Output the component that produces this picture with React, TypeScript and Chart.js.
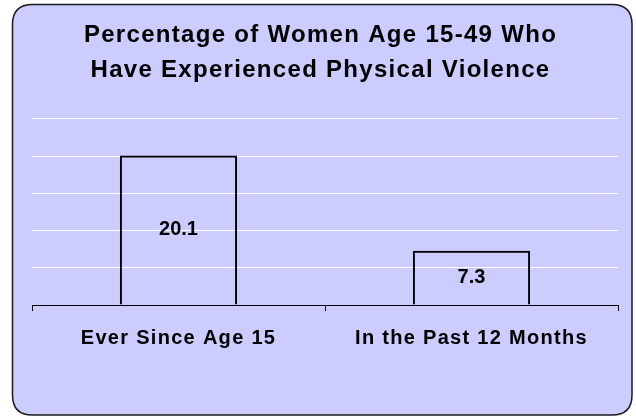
import React, { useEffect, useRef } from "react";
import { Chart, registerables } from "chart.js";

Chart.register(...registerables);

const categories: string[] = ["Ever Since Age 15", "In the Past 12 Months"];
const values: number[] = [20.1, 7.3];
const titleLines: string[] = ["Percentage of Women Age 15-49 Who", "Have Experienced Physical Violence"];
const yMin = 0;
const yMax = 25;
const yStep = 5;

const FONT = "'Liberation Sans', Arial, sans-serif";

const backgroundPlugin = {
  id: "roundedBackground",
  beforeDraw(chart: any) {
    const ctx = chart.ctx as CanvasRenderingContext2D;
    const x0 = 12.5, y0 = 4.5, x1 = 632, y1 = 415, r = 20;
    ctx.save();
    ctx.beginPath();
    ctx.moveTo(x0 + r, y0);
    ctx.lineTo(x1 - r, y0);
    ctx.quadraticCurveTo(x1, y0, x1, y0 + r);
    ctx.lineTo(x1, y1 - r);
    ctx.quadraticCurveTo(x1, y1, x1 - r, y1);
    ctx.lineTo(x0 + r, y1);
    ctx.quadraticCurveTo(x0, y1, x0, y1 - r);
    ctx.lineTo(x0, y0 + r);
    ctx.quadraticCurveTo(x0, y0, x0 + r, y0);
    ctx.closePath();
    ctx.fillStyle = "#CCCCFF";
    ctx.fill();
    ctx.lineWidth = 1.5;
    ctx.strokeStyle = "#1a1a1a";
    ctx.stroke();
    ctx.restore();
    // wider glyph spacing like the reference rendering
    (ctx as any).letterSpacing = "1.3px";
  },
};

const valueLabelPlugin = {
  id: "valueLabels",
  afterDatasetsDraw(chart: any) {
    const ctx = chart.ctx as CanvasRenderingContext2D;
    const meta = chart.getDatasetMeta(0);
    ctx.save();
    (ctx as any).letterSpacing = "0px";
    ctx.font = `bold 20px ${FONT}`;
    ctx.fillStyle = "#000";
    ctx.textAlign = "center";
    ctx.textBaseline = "middle";
    meta.data.forEach((bar: any, i: number) => {
      const { x, y, base } = bar.getProps(["x", "y", "base"], true);
      ctx.fillText(values[i].toFixed(1), x, (y + base) / 2);
    });
    ctx.restore();
  },
};

export default function App() {
  const canvasRef = useRef<HTMLCanvasElement | null>(null);

  useEffect(() => {
    document.body.style.margin = "0";
    const canvas = canvasRef.current;
    if (!canvas) return;
    const chart = new Chart(canvas, {
      type: "bar",
      data: {
        labels: categories,
        datasets: [
          {
            data: values,
            backgroundColor: "rgba(0,0,0,0)",
            borderColor: "#000",
            borderWidth: 2,
            barPercentage: 0.4,
            categoryPercentage: 1,
          },
        ],
      },
      options: {
        responsive: false,
        animation: false,
        layout: { padding: { left: 23, right: 18, top: 0, bottom: 52 } },
        plugins: {
          legend: { display: false },
          tooltip: { enabled: false },
          title: {
            display: true,
            text: titleLines,
            color: "#000",
            font: { family: FONT, size: 24, weight: "bold", lineHeight: 1.458 },
            padding: { top: 17.5, bottom: 31.5 },
          },
        },
        scales: {
          x: {
            grid: {
              drawOnChartArea: false,
              drawTicks: true,
              tickLength: 6,
              color: "#000",
              offset: true,
            },
            border: { display: true, color: "#000", width: 1 },
            ticks: {
              color: "#000",
              padding: 15,
              maxRotation: 0,
              font: { family: FONT, size: 20, weight: "bold", lineHeight: 1.2 },
            },
          },
          y: {
            min: yMin,
            max: yMax,
            ticks: { display: false, stepSize: yStep },
            border: { display: false },
            grid: { color: "#FFFFFF", lineWidth: 1, drawTicks: false },
            afterFit(scale: any) {
              scale.width = 9;
            },
          },
        },
      },
      plugins: [backgroundPlugin, valueLabelPlugin],
    });
    return () => chart.destroy();
  }, []);

  return (
    <div style={{ position: "absolute", left: 0, top: 0, width: 636, height: 417 }}>
      <canvas ref={canvasRef} width={636} height={417} />
    </div>
  );
}
